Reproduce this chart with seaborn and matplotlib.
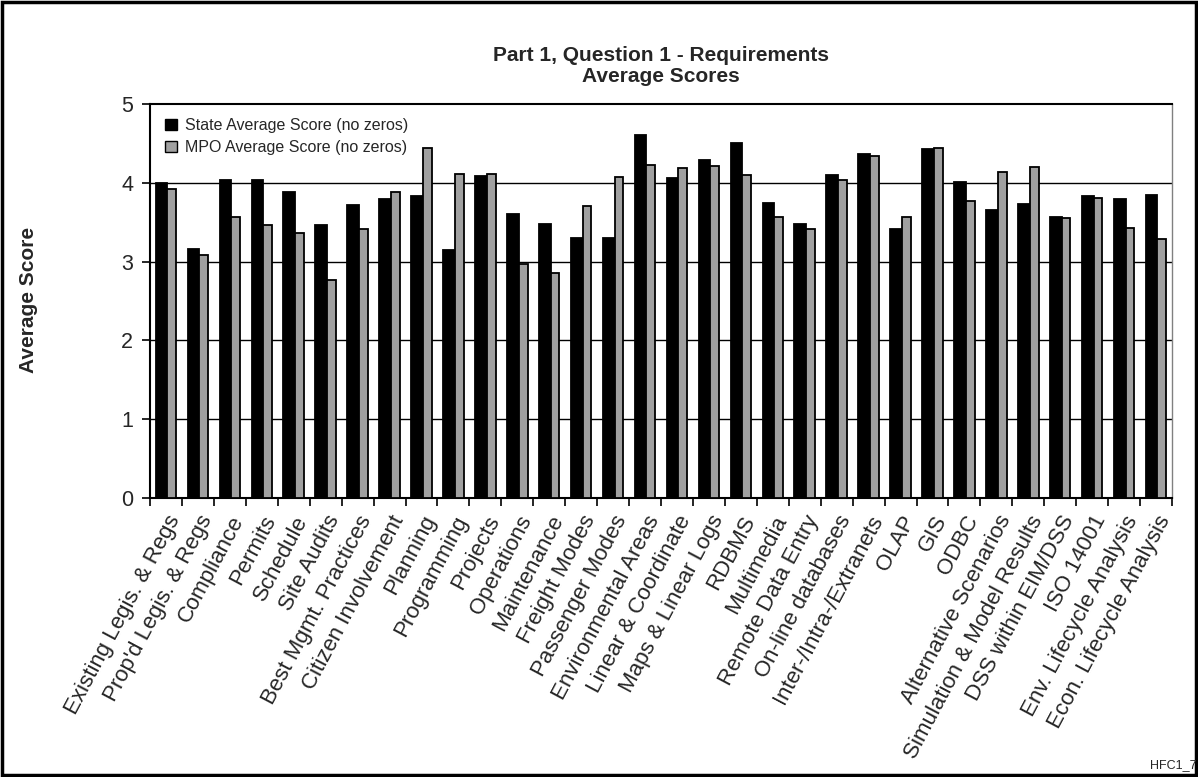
import matplotlib
matplotlib.use("Agg")
import matplotlib.pyplot as plt
import seaborn as sns
import pandas as pd
from matplotlib.patches import Rectangle

categories = [
    "Existing Legis. & Regs", "Prop'd Legis. & Regs", "Compliance", "Permits",
    "Schedule", "Site Audits", "Best Mgmt. Practices", "Citizen Involvement",
    "Planning", "Programming", "Projects", "Operations", "Maintenance",
    "Freight Modes", "Passenger Modes", "Environmental Areas",
    "Linear & Coordinate", "Maps & Linear Logs", "RDBMS", "Multimedia",
    "Remote Data Entry", "On-line databases", "Inter-/Intra-/Extranets",
    "OLAP", "GIS", "ODBC", "Alternative Scenarios",
    "Simulation & Model Results", "DSS within EIM/DSS", "ISO 14001",
    "Env. Lifecycle Analysis", "Econ. Lifecycle Analysis",
]
state_scores = [4.00, 3.16, 4.04, 4.04, 3.88, 3.46, 3.72, 3.80, 3.83, 3.15,
                4.09, 3.61, 3.48, 3.30, 3.30, 4.61, 4.06, 4.29, 4.50, 3.75,
                3.48, 4.10, 4.36, 3.42, 4.43, 4.01, 3.66, 3.73, 3.56, 3.83,
                3.79, 3.85]
mpo_scores = [3.92, 3.08, 3.56, 3.47, 3.36, 2.77, 3.42, 3.88, 4.44, 4.11,
              4.11, 2.97, 2.85, 3.71, 4.07, 4.23, 4.19, 4.21, 4.10, 3.56,
              3.42, 4.03, 4.34, 3.57, 4.44, 3.77, 4.14, 4.20, 3.55, 3.81,
              3.43, 3.29]
series_names = ["State Average Score (no zeros)", "MPO Average Score (no zeros)"]
y_ticks = [0, 1, 2, 3, 4, 5]

df = pd.DataFrame({
    "Category": categories * 2,
    "Score": state_scores + mpo_scores,
    "Series": [series_names[0]] * len(categories) + [series_names[1]] * len(categories),
})

sns.set_theme(style="white")
plt.rcParams["font.family"] = ["Liberation Sans", "DejaVu Sans"]

fig = plt.figure(figsize=(11.98, 7.77), dpi=100)
ax = fig.add_axes([150 / 1198, 1 - 498 / 777, (1172 - 150) / 1198, (498 - 104) / 777])

sns.barplot(data=df, x="Category", y="Score", hue="Series", order=categories,
            hue_order=series_names, palette=["#000000", "#a0a0a0"],
            width=0.64, dodge=True, edgecolor="black", linewidth=1.3,
            saturation=1, ax=ax, errorbar=None, legend=True)

# Excel-like proportions: black bar slightly wider than the grey one
n = len(categories)
shift = 0.045
for i, p in enumerate(ax.patches[:2 * n]):
    if i < n:
        p.set_width(p.get_width() + shift)
    else:
        p.set_x(p.get_x() + shift)
        p.set_width(p.get_width() - shift)
    p.set_zorder(3)

ax.set_ylim(0, 5)
ax.set_xlim(-0.5, n - 0.5)
ax.set_yticks(y_ticks)
ax.set_yticklabels([str(v) for v in y_ticks], fontsize=15.5)
for v in y_ticks[1:-1]:
    ax.axhline(v, color="black", linewidth=1.0, zorder=1)

ax.set_xticks(range(n))
ax.set_xticklabels(categories, rotation=62, ha="right", va="top",
                   rotation_mode="anchor", fontsize=16)
ax.set_xticks([i - 0.5 for i in range(n + 1)], minor=True)
ax.tick_params(axis="x", which="major", length=0, pad=10)
ax.tick_params(axis="x", which="minor", length=6, width=1.2, color="black", direction="out", bottom=True)
ax.tick_params(axis="y", length=6, width=1.2, color="black", direction="out", left=True, pad=6)
ax.set_xlabel("")
ax.set_ylabel("")

for side in ["left", "bottom", "top"]:
    ax.spines[side].set_color("black")
    ax.spines[side].set_linewidth(1.5)
ax.spines["right"].set_color("#808080")
ax.spines["right"].set_linewidth(1.0)

ax.set_title("Part 1, Question 1 - Requirements\nAverage Scores", fontsize=15,
             fontweight="bold", pad=16, linespacing=1.1)

leg = ax.legend(loc="upper left", bbox_to_anchor=(0.004, 0.993), frameon=False,
                fontsize=11.5, handlelength=0.75, handleheight=0.75,
                handletextpad=0.5, labelspacing=0.45, borderaxespad=0.3)
for h in leg.legend_handles:
    h.set_edgecolor("black")
    h.set_linewidth(1.0)

fig.text(29 / 1198, 1 - 300 / 777, "Average Score", rotation=90, fontsize=15,
         fontweight="bold", ha="center", va="center")
fig.text(1150 / 1198, 1 - 765 / 777, "HFC1_7", fontsize=9, ha="left", va="center")

fig.patches.append(Rectangle((0.002, 0.003), 0.996, 0.994, transform=fig.transFigure,
                             fill=False, edgecolor="black", linewidth=2.5))

fig.savefig("out.png", dpi=100, facecolor="white")
